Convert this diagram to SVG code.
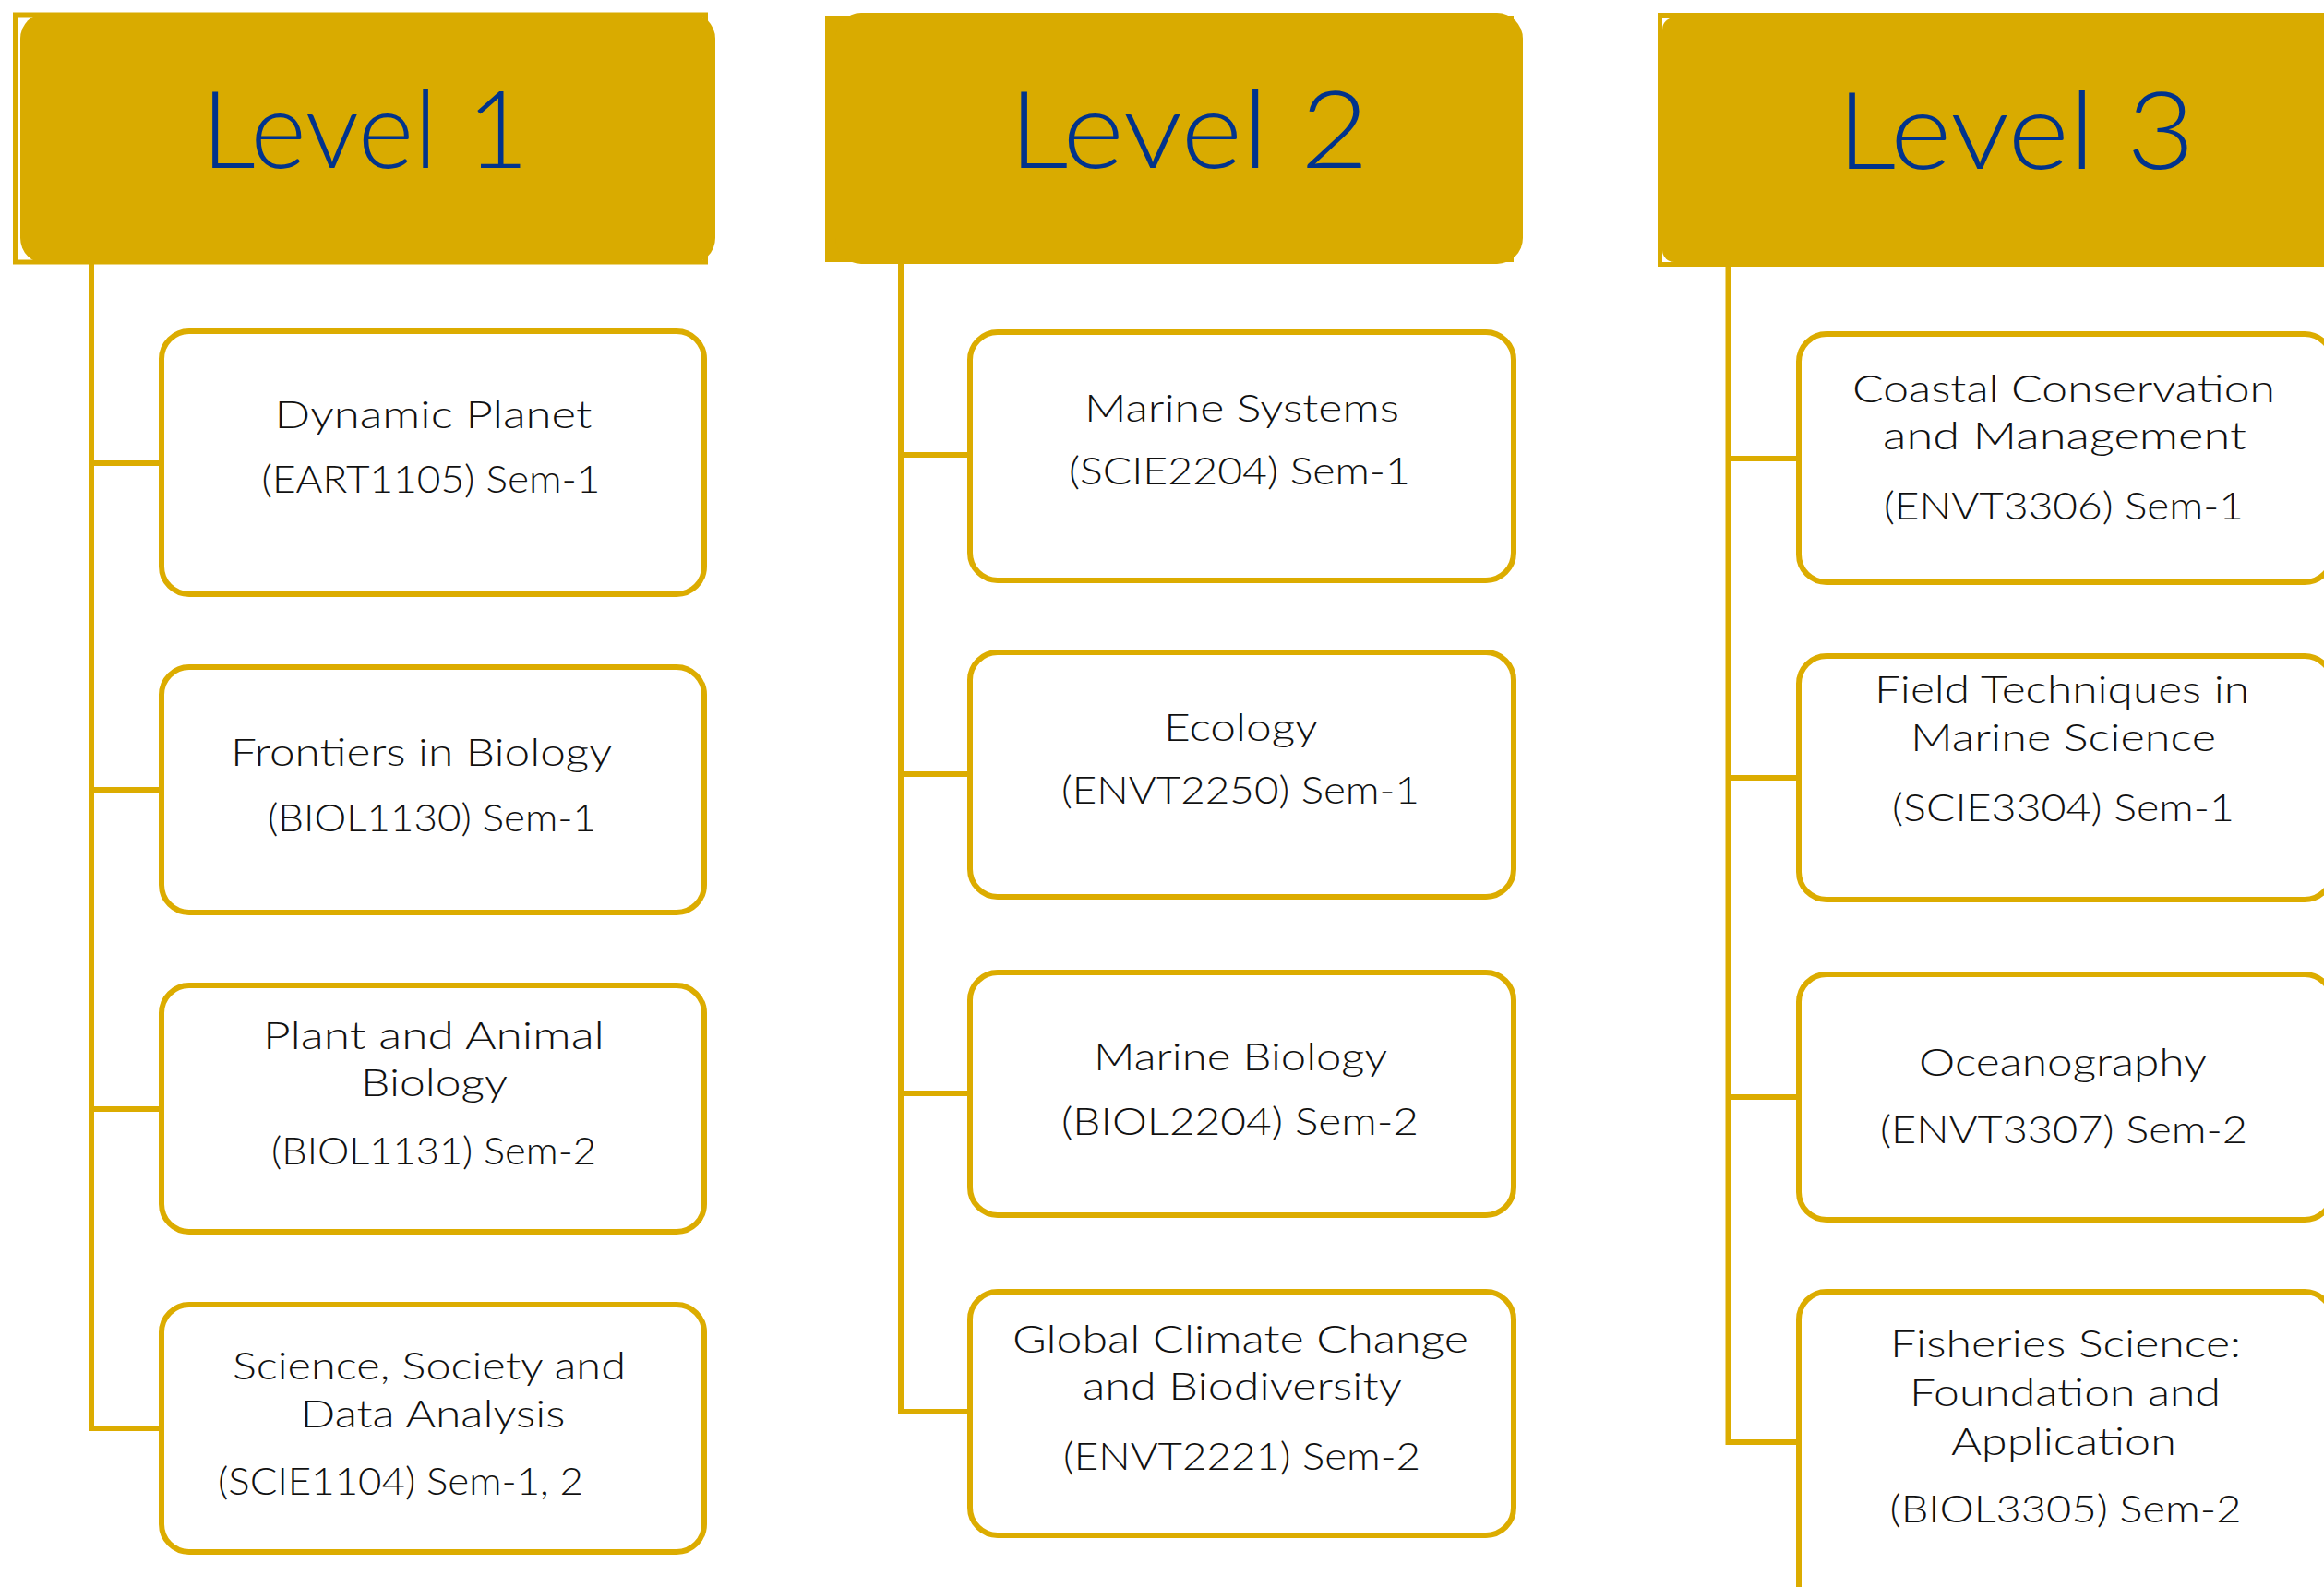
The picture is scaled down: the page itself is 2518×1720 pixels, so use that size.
<svg xmlns="http://www.w3.org/2000/svg" width="2518" height="1720" viewBox="0 0 2518 1720">
<style>
.hdr{fill:#D9AB00}
.hout{fill:#FFFFFF;stroke:#D9AB00}
.lvl{font-family:Lato,"Open Sans","Liberation Sans",sans-serif;font-weight:300;font-size:116px;fill:#01338C;text-anchor:middle}
.box{fill:#FFFFFF;stroke:#DCAC00;stroke-width:6}
.t{font-family:Lato,"Open Sans","Liberation Sans",sans-serif;font-weight:300;font-size:41px;fill:#111111;text-anchor:middle}
.con{fill:none;stroke:#DCAC00;stroke-width:6;stroke-linejoin:miter}
</style>
<rect width="2518" height="1720" fill="#FFFFFF"/>

<g id="connectors">
  <path class="con" d="M99,286 V1548 H172"/>
  <path class="con" d="M99,502 H172 M99,856 H172 M99,1202 H172"/>
  <path class="con" d="M976,286 V1530 H1048"/>
  <path class="con" d="M976,493 H1048 M976,839 H1048 M976,1185 H1048"/>
  <path class="con" d="M1872.5,289 V1563 H1946"/>
  <path class="con" d="M1872.5,497 H1946 M1872.5,843 H1946 M1872.5,1189 H1946"/>
</g>

<g id="level1">
  <rect class="hout" x="16.5" y="16" width="748" height="268" stroke-width="5"/>
  <rect class="hdr" x="22" y="14" width="753" height="272" rx="28"/>
  <text class="lvl" x="395.5" y="182" textLength="355" lengthAdjust="spacingAndGlyphs">Level 1</text>
</g>
<g id="level2">
  <rect class="hdr" x="894" y="17" width="746" height="267"/>
  <rect class="hdr" x="905" y="14" width="745" height="272" rx="28"/>
  <text class="lvl" x="1288" y="182" textLength="390" lengthAdjust="spacingAndGlyphs">Level 2</text>
</g>
<g id="level3">
  <rect class="hout" x="1798.5" y="16.5" width="900" height="270" stroke-width="5"/>
  <rect class="hdr" x="1801" y="19" width="900" height="265" rx="13"/>
  <text class="lvl" x="2184" y="183" textLength="388" lengthAdjust="spacingAndGlyphs">Level 3</text>
</g>

<g id="c1b1">
  <rect class="box" x="175" y="359" width="588" height="285" rx="30"/>
  <text class="t" x="469.5" y="464" textLength="344" lengthAdjust="spacingAndGlyphs">Dynamic Planet</text>
  <text class="t" x="467" y="534" textLength="367" lengthAdjust="spacingAndGlyphs">(EART1105) Sem-1</text>
</g>
<g id="c1b2">
  <rect class="box" x="175" y="723" width="588" height="266" rx="30"/>
  <text class="t" x="456.5" y="830" textLength="413" lengthAdjust="spacingAndGlyphs">Frontiers in Biology</text>
  <text class="t" x="468" y="901" textLength="356" lengthAdjust="spacingAndGlyphs">(BIOL1130) Sem-1</text>
</g>
<g id="c1b3">
  <rect class="box" x="175" y="1068" width="588" height="267" rx="30"/>
  <text class="t" x="470" y="1137" textLength="370" lengthAdjust="spacingAndGlyphs">Plant and Animal</text>
  <text class="t" x="470.5" y="1188" textLength="159" lengthAdjust="spacingAndGlyphs">Biology</text>
  <text class="t" x="470" y="1262" textLength="352" lengthAdjust="spacingAndGlyphs">(BIOL1131) Sem-2</text>
</g>
<g id="c1b4">
  <rect class="box" x="175" y="1414" width="588" height="268" rx="30"/>
  <text class="t" x="465" y="1495" textLength="426" lengthAdjust="spacingAndGlyphs">Science, Society and</text>
  <text class="t" x="469" y="1547" textLength="287" lengthAdjust="spacingAndGlyphs">Data Analysis</text>
  <text class="t" x="434" y="1620" textLength="396" lengthAdjust="spacingAndGlyphs">(SCIE1104) Sem-1, 2</text>
</g>

<g id="c2b1">
  <rect class="box" x="1051" y="360" width="589" height="269" rx="30"/>
  <text class="t" x="1345.5" y="457" textLength="341" lengthAdjust="spacingAndGlyphs">Marine Systems</text>
  <text class="t" x="1343" y="525" textLength="370" lengthAdjust="spacingAndGlyphs">(SCIE2204) Sem-1</text>
</g>
<g id="c2b2">
  <rect class="box" x="1051" y="707" width="589" height="265" rx="30"/>
  <text class="t" x="1344.5" y="803" textLength="167" lengthAdjust="spacingAndGlyphs">Ecology</text>
  <text class="t" x="1344" y="871" textLength="388" lengthAdjust="spacingAndGlyphs">(ENVT2250) Sem-1</text>
</g>
<g id="c2b3">
  <rect class="box" x="1051" y="1054" width="589" height="263" rx="30"/>
  <text class="t" x="1344" y="1160" textLength="318" lengthAdjust="spacingAndGlyphs">Marine Biology</text>
  <text class="t" x="1343.5" y="1230" textLength="387" lengthAdjust="spacingAndGlyphs">(BIOL2204) Sem-2</text>
</g>
<g id="c2b4">
  <rect class="box" x="1051" y="1400" width="589" height="264" rx="30"/>
  <text class="t" x="1344" y="1466" textLength="494" lengthAdjust="spacingAndGlyphs">Global Climate Change</text>
  <text class="t" x="1346" y="1517" textLength="346" lengthAdjust="spacingAndGlyphs">and Biodiversity</text>
  <text class="t" x="1345.5" y="1593" textLength="387" lengthAdjust="spacingAndGlyphs">(ENVT2221) Sem-2</text>
</g>

<g id="c3b1">
  <rect class="box" x="1949" y="362" width="578" height="269" rx="30"/>
  <text class="t" x="2236" y="436" textLength="458" lengthAdjust="spacingAndGlyphs">Coastal Conservation</text>
  <text class="t" x="2237" y="487" textLength="394" lengthAdjust="spacingAndGlyphs">and Management</text>
  <text class="t" x="2236" y="563" textLength="390" lengthAdjust="spacingAndGlyphs">(ENVT3306) Sem-1</text>
</g>
<g id="c3b2">
  <rect class="box" x="1949" y="711" width="578" height="264" rx="30"/>
  <text class="t" x="2234" y="762" textLength="406" lengthAdjust="spacingAndGlyphs">Field Techniques in</text>
  <text class="t" x="2235.5" y="814" textLength="331" lengthAdjust="spacingAndGlyphs">Marine Science</text>
  <text class="t" x="2235.5" y="890" textLength="371" lengthAdjust="spacingAndGlyphs">(SCIE3304) Sem-1</text>
</g>
<g id="c3b3">
  <rect class="box" x="1949" y="1056" width="578" height="266" rx="30"/>
  <text class="t" x="2235" y="1166" textLength="312" lengthAdjust="spacingAndGlyphs">Oceanography</text>
  <text class="t" x="2236" y="1239" textLength="398" lengthAdjust="spacingAndGlyphs">(ENVT3307) Sem-2</text>
</g>
<g id="c3b4">
  <rect class="box" x="1949" y="1400" width="578" height="400" rx="30"/>
  <text class="t" x="2238" y="1471" textLength="380" lengthAdjust="spacingAndGlyphs">Fisheries Science:</text>
  <text class="t" x="2237.5" y="1524" textLength="337" lengthAdjust="spacingAndGlyphs">Foundation and</text>
  <text class="t" x="2236" y="1577" textLength="244" lengthAdjust="spacingAndGlyphs">Application</text>
  <text class="t" x="2238" y="1650" textLength="381" lengthAdjust="spacingAndGlyphs">(BIOL3305) Sem-2</text>
</g>
</svg>
